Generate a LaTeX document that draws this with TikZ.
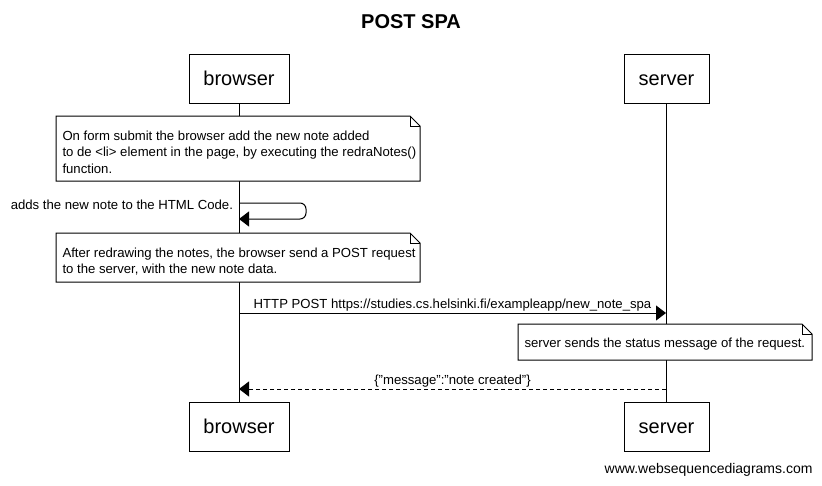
\documentclass[tikz,border=0pt]{standalone}
\usepackage{fontspec}
\setmainfont{Liberation Sans}
\usetikzlibrary{arrows.meta}
\begin{document}
\begin{tikzpicture}[x=1pt,y=-1pt,line width=1pt,
  actor/.style={draw, line width=1pt, minimum height=49pt, inner sep=0pt, text height=16.5pt, text depth=2.5pt, font=\fontsize{20}{24}\selectfont},
  notetext/.style={inner xsep=6pt, inner ysep=0pt, align=left, anchor=north west, font=\fontsize{13.15}{16.5}\selectfont},
  msg/.style={-{Triangle[length=10pt,width=15pt]}},
  lbl/.style={font=\fontsize{13.15}{16}\selectfont, inner sep=1.5pt}
]
\useasboundingbox (0,0) rectangle (822,485);
\fill[white] (0,0) rectangle (822,485);

% title
\node[font=\bfseries\fontsize{20}{24}\selectfont] (title) at (411,22) {POST SPA};

% participants
\node[actor, minimum width=100pt] (bt) at (239,78.5) {browser};
\node[actor, minimum width=85pt] (st) at (666.5,78.5) {server};
\node[actor, minimum width=100pt] (bb) at (239,426.5) {browser};
\node[actor, minimum width=85pt] (sb) at (666.5,426.5) {server};

% lifelines
\draw (bt.south) -- (bb.north);
\draw (st.south) -- (sb.north);

% note 1
\draw[fill=white] (56,116) -- (410,116) -- (420,126) -- (420,181) -- (56,181) -- cycle;
\draw (410,116) -- (410,126) -- (420,126);
\node[notetext] (n1) at (56,130) {On form submit the browser add the new note added\\to de <li> element in the page, by executing the redraNotes()\\function.};

% self message
\coordinate (s1) at (239,203);
\coordinate (s2) at (239,219);
\draw[msg, rounded corners=6pt] (s1) -- (306,203) -- (306,219) -- (s2);
\node[lbl, anchor=east] (sl) at (235,204.5) {adds the new note to the HTML Code.};

% note 2
\draw[fill=white] (56,233) -- (410,233) -- (420,243) -- (420,282) -- (56,282) -- cycle;
\draw (410,233) -- (410,243) -- (420,243);
\node[notetext] (n2) at (56,247) {After redrawing the notes, the browser send a POST request\\to the server, with the new note data.};

% POST message
\coordinate (p1) at (239,313);
\coordinate (p2) at (666,313);
\draw[msg] (p1) -- (p2) node[lbl, midway, anchor=south] (pl) {HTTP POST https://studies.cs.helsinki.fi/exampleapp/new\_note\_spa};

% note 3
\draw[fill=white] (518,324) -- (802,324) -- (812,334) -- (812,360) -- (518,360) -- cycle;
\draw (802,324) -- (802,334) -- (812,334);
\node[notetext] (n3) at (518,337.5) {server sends the status message of the request.};

% return message
\coordinate (r1) at (666,389);
\coordinate (r2) at (239,389);
\draw[msg, dash pattern=on 4pt off 3pt] (r1) -- (r2) node[lbl, midway, anchor=south] (rl) {\{"message":"note created"\}};

% footer
\node[font=\fontsize{14}{17}\selectfont, anchor=east, inner sep=0pt] (foot) at (813,470) {www.websequencediagrams.com};
\end{tikzpicture}
\end{document}
